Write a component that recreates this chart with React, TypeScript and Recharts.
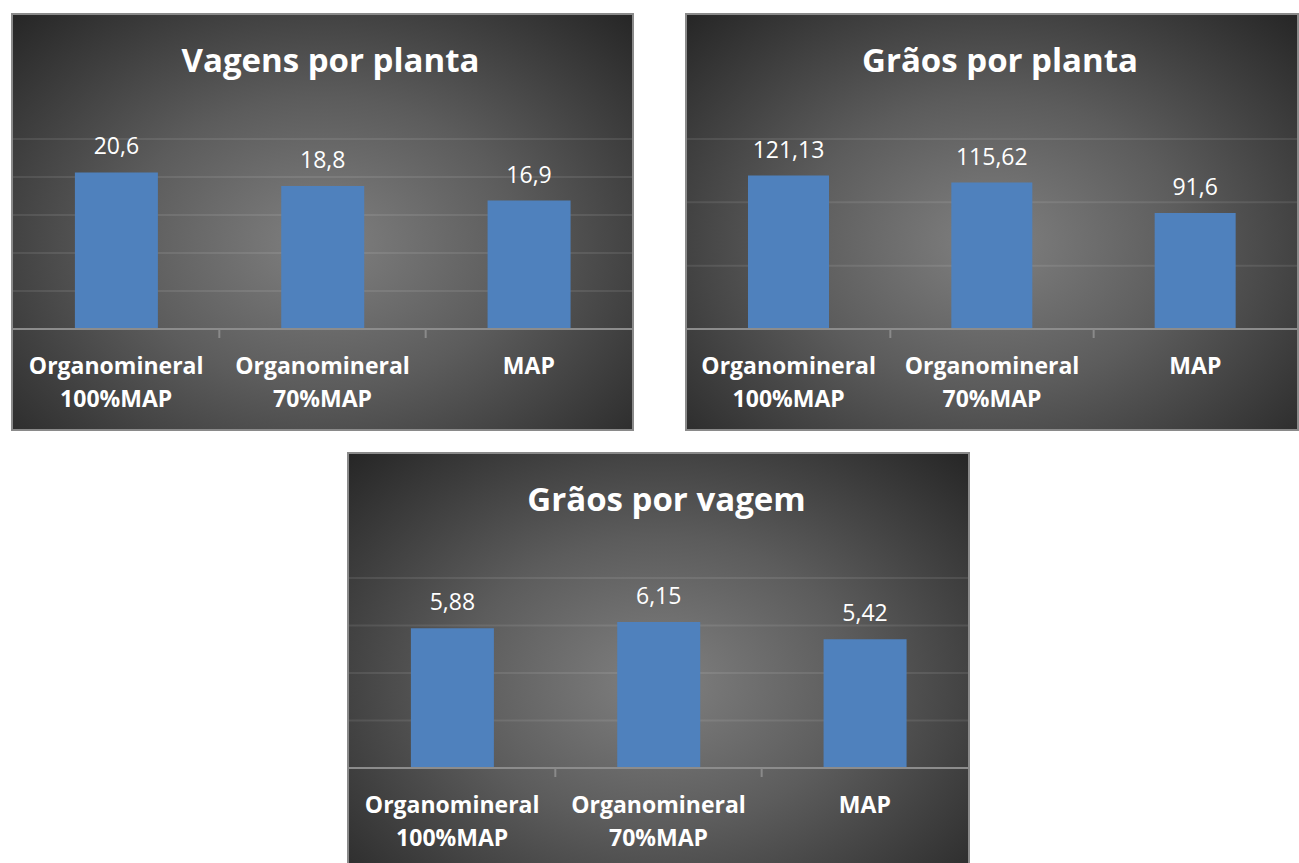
import React from "react";
import {
  BarChart,
  Bar,
  XAxis,
  YAxis,
  CartesianGrid,
  LabelList,
} from "recharts";

const categories = ["Organomineral 100%MAP", "Organomineral 70%MAP", "MAP"];
const vagensPorPlanta = [20.6, 18.8, 16.9];
const graosPorPlanta = [121.13, 115.62, 91.6];
const graosPorVagem = [5.88, 6.15, 5.42];
const vagensTicks = [0, 5, 10, 15, 20, 25];
const graosPlantaTicks = [0, 50, 100, 150];
const graosVagemTicks = [0, 2, 4, 6, 8];

const FONT = "'Open Sans', 'Noto Sans', sans-serif";
const BAR_COLOR = "#4F81BD";
const BORDER = 2;

// decimal comma, as in the original workbook
const fmt = (v: number) => String(v).replace(".", ",");

function CategoryTick({ x, y, payload, index, band }: any) {
  const parts = String(payload.value).split(" ");
  // half a band back from the centre is the boundary with the previous category
  const half = payload.offset ? payload.offset : band / 2;
  return (
    <g>
      {index > 0 && (
        <line
          x1={x - half}
          x2={x - half}
          y1={y}
          y2={y + 9}
          stroke="#8a8a8a"
          strokeWidth={2}
        />
      )}
      <text
        x={x}
        y={y}
        textAnchor="middle"
        fill="#ffffff"
        fontFamily={FONT}
        fontWeight={700}
        fontSize={23}
      >
        {parts.map((p, i) => (
          <tspan key={i} x={x} y={y + 45 + i * 33}>
            {p}
          </tspan>
        ))}
      </text>
    </g>
  );
}

interface PanelProps {
  title: string;
  values: number[];
  ticks: number[];
  left: number;
  top: number;
  width: number;
  height: number;
}

function Panel({ title, values, ticks, left, top, width, height }: PanelProps) {
  const data = categories.map((name, i) => ({ name, value: values[i] }));
  const innerW = width - 2 * BORDER;
  const innerH = height - 2 * BORDER;
  return (
    <div
      style={{
        position: "absolute",
        left,
        top,
        width: innerW,
        height: innerH,
        border: `${BORDER}px solid #8a8a8a`,
        background:
          "radial-gradient(ellipse farthest-corner at 50% 55%, #808080 0%, #5c5c5c 45%, #262626 100%)",
      }}
    >
      <div
        style={{
          position: "absolute",
          left: 8,
          top: 22,
          width: innerW,
          textAlign: "center",
          color: "#ffffff",
          fontFamily: FONT,
          fontWeight: 700,
          fontSize: 33,
          lineHeight: "normal",
          whiteSpace: "nowrap",
        }}
      >
        {title}
      </div>
      <BarChart
        width={innerW}
        height={innerH}
        data={data}
        margin={{ top: 124, right: 0, left: 0, bottom: 0 }}
        barCategoryGap="30%"
        style={{ position: "absolute", left: 0, top: 0 }}
      >
        <CartesianGrid
          vertical={false}
          stroke="rgba(255,255,255,0.09)"
          strokeWidth={2}
        />
        <XAxis
          dataKey="name"
          height={innerH - 314}
          tickLine={false}
          tickSize={0}
          tickMargin={0}
          interval={0}
          axisLine={{ stroke: "#8c8c8c", strokeWidth: 2 }}
          tick={<CategoryTick band={innerW / categories.length} />}
        />
        <YAxis hide domain={[ticks[0], ticks[ticks.length - 1]]} ticks={ticks} />
        <Bar dataKey="value" fill={BAR_COLOR} isAnimationActive={false}>
          <LabelList
            dataKey="value"
            position="top"
            offset={18}
            formatter={(v: any) => fmt(Number(v))}
            fill="#ffffff"
            fontSize={23}
            fontFamily={FONT}
          />
        </Bar>
      </BarChart>
    </div>
  );
}

export default function App() {
  return (
    <div
      style={{
        position: "absolute",
        left: 0,
        top: 0,
        width: 1299,
        height: 863,
        overflow: "hidden",
        background: "#ffffff",
      }}
    >
      <Panel
        title="Vagens por planta"
        values={vagensPorPlanta}
        ticks={vagensTicks}
        left={11}
        top={13}
        width={623}
        height={418}
      />
      <Panel
        title="Grãos por planta"
        values={graosPorPlanta}
        ticks={graosPlantaTicks}
        left={685}
        top={13}
        width={614}
        height={418}
      />
      <Panel
        title="Grãos por vagem"
        values={graosPorVagem}
        ticks={graosVagemTicks}
        left={347}
        top={452}
        width={623}
        height={418}
      />
    </div>
  );
}
